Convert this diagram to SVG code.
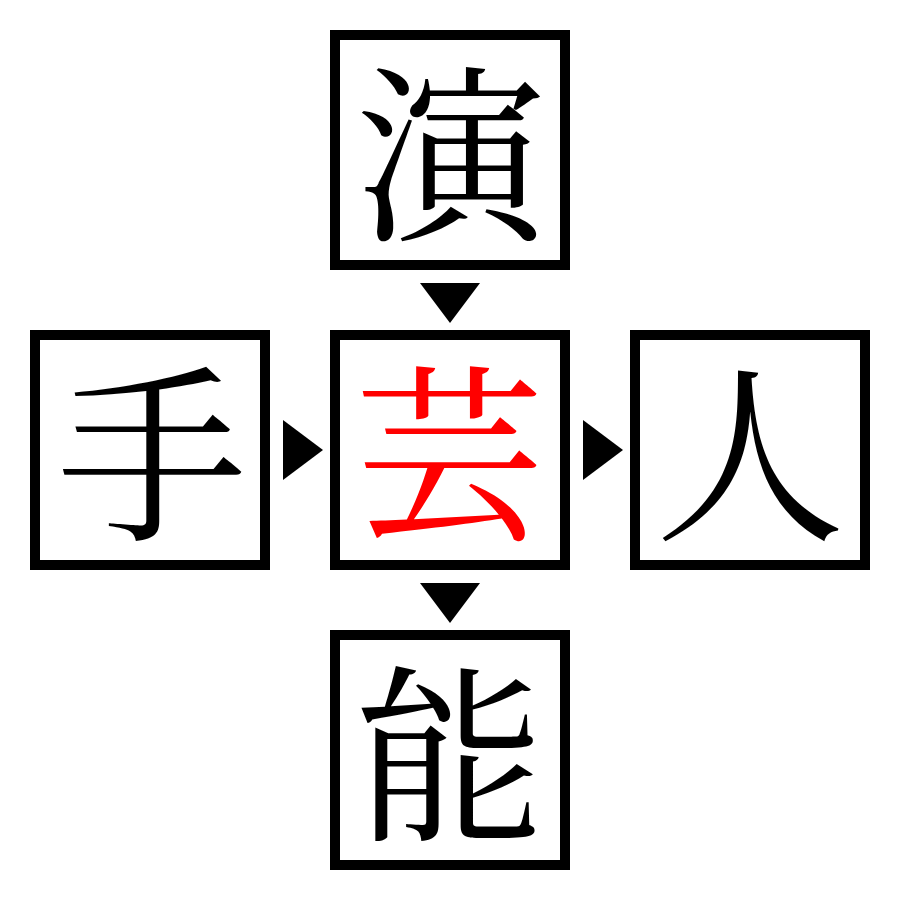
<svg xmlns="http://www.w3.org/2000/svg" width="900" height="900" viewBox="0 0 900 900">
<style>
.box{fill:#fff;stroke:#000;stroke-width:10}
.ch{font-family:"Noto Serif CJK JP","Noto Sans CJK JP",serif;font-size:190px;text-anchor:middle;fill:#000}
.red{fill:#ff0000}
.arr{fill:#000}
</style>
<rect width="900" height="900" fill="#fff"/>
<g id="node-top"><rect class="box" x="335" y="35" width="230" height="230"/><text class="ch" x="450" y="226">演</text></g>
<g id="node-left"><rect class="box" x="35" y="335" width="230" height="230"/><text class="ch" x="152" y="526">手</text></g>
<g id="node-center"><rect class="box" x="335" y="335" width="230" height="230"/><text class="ch red" x="450" y="526">芸</text></g>
<g id="node-right"><rect class="box" x="635" y="335" width="230" height="230"/><text class="ch" x="750" y="526">人</text></g>
<g id="node-bottom"><rect class="box" x="335" y="635" width="230" height="230"/><text class="ch" x="450" y="826">能</text></g>
<g id="connectors">
<polygon class="arr" points="420,283 480,283 450,323"/>
<polygon class="arr" points="283,420 283,480 323,450"/>
<polygon class="arr" points="583,420 583,480 623,450"/>
<polygon class="arr" points="420,583 480,583 450,623"/>
</g>
</svg>
